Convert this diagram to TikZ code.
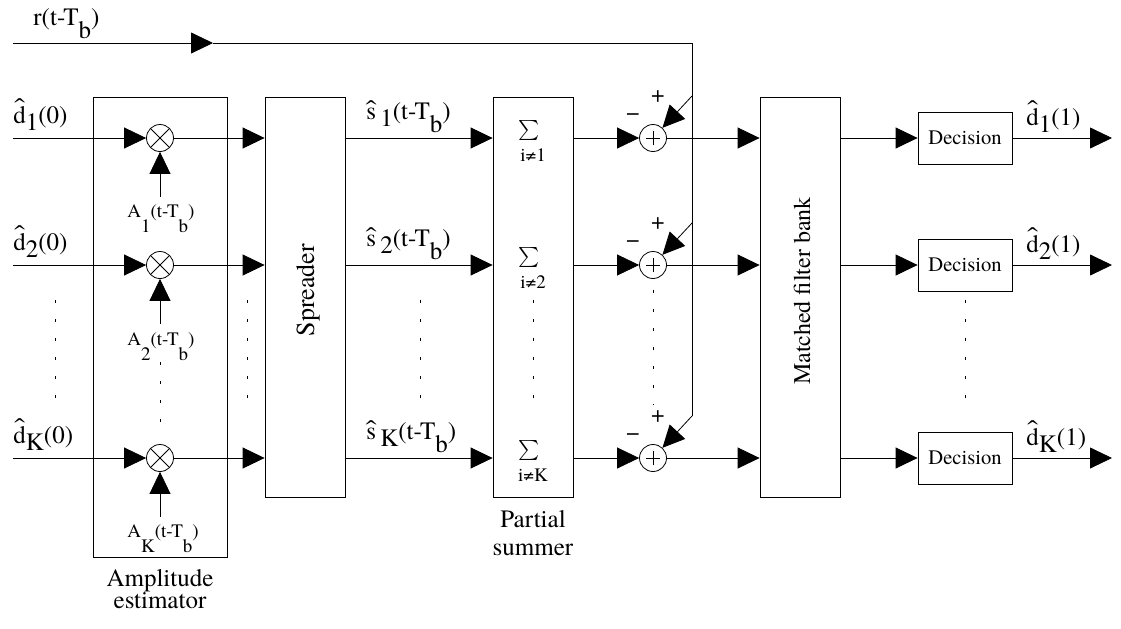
\documentclass[tikz,border=0pt]{standalone}
\usepackage{fontspec}
\setmainfont{texgyretermes}[Extension=.otf, UprightFont=*-regular, BoldFont=*-bold, ItalicFont=*-italic, BoldItalicFont=*-bolditalic]
\usepackage{graphicx}
\usepackage{tikz}
\usetikzlibrary{arrows.meta}

\newcommand{\lo}[1]{\raisebox{-0.3em}{#1}}
\newcommand{\dn}[1]{\raisebox{-0.55em}{#1}}
\newcommand{\dd}[1]{\raisebox{-0.8em}{#1}}
\newcommand{\hatc}[2]{\ooalign{#1\cr\hidewidth\raisebox{#2}{\scalebox{1.4}[1]{ˆ}}\hidewidth\cr}}

\begin{document}
\begin{tikzpicture}[x=0.5pt,y=-0.5pt,
	sig/.style={-{Triangle[length=11pt,width=10.5pt]}},
	blk/.style={draw, inner sep=0pt, minimum width=40pt, minimum height=200pt},
	mul/.style={draw, circle, inner sep=0pt, minimum size=13.5pt, path picture={
		\draw (path picture bounding box.north west) -- (path picture bounding box.south east)
			(path picture bounding box.north east) -- (path picture bounding box.south west);}},
	add/.style={draw, circle, inner sep=0pt, minimum size=13.5pt, path picture={
		\draw ([xshift=-3.5pt]path picture bounding box.center) -- ([xshift=3.5pt]path picture bounding box.center)
			([yshift=-3.5pt]path picture bounding box.center) -- ([yshift=3.5pt]path picture bounding box.center);}},
	decbox/.style={draw, inner sep=0pt, minimum width=47pt, minimum height=26pt, font=\fontsize{10.3}{12}\selectfont},
	lbl/.style={anchor=base west, inner sep=0pt, font=\fontsize{12.5}{15}\selectfont},
	alab/.style={anchor=base west, inner sep=0pt, font=\fontsize{9.5}{11}\selectfont},
	sgn/.style={inner sep=0pt, font=\fontsize{12}{14}\selectfont},
	sumsym/.style={inner sep=0pt, font=\fontsize{13}{15}\selectfont},
	sumidx/.style={inner sep=0pt, font=\fontsize{9.5}{11}\selectfont},
	blkcap/.style={anchor=base, inner sep=0pt, font=\fontsize{12.5}{15}\selectfont},
	dots/.style={dash pattern=on 1.5pt off 8pt}]

	\useasboundingbox (0,0) rectangle (1121,628);

	% Blocks
	\node[draw, inner sep=0pt, minimum width=67pt, minimum height=230pt] (amp) at (160,327) {};
	\node[blk] (spr) at (305,297) {};
	\node[blk] (psum) at (533,297) {};
	\node[blk] (mfb) at (800,297) {};

	\node[rotate=90, inner sep=0pt, font=\fontsize{13}{15}\selectfont] (sprt) at (308,290) {Spreader};
	\node[rotate=90, inner sep=0pt, font=\fontsize{12}{14}\selectfont] (mfbt) at (802,291) {Matched filter bank};

	\node[blkcap] (ampl1) at (160,586) {Amplitude};
	\node[blkcap] (ampl2) at (160,608) {estimator};
	\node[blkcap] (psl1) at (533,527) {Partial};
	\node[blkcap] (psl2) at (533,555) {summer};

	% Received signal
	\coordinate (rin) at (13,43);
	\coordinate (rmid) at (213,43);
	\coordinate (rtop) at (692,43);
	\node[lbl] (rl) at (33,25) {r(t-T\dn{b})};

	% Row 1
	\coordinate (in1) at (13,138);
	\coordinate (out1) at (1112,138);
	\coordinate (v1) at (160,197);
	\coordinate (b1) at (692,96);
	\node[mul] (m1) at (160,138) {};
	\node[add] (a1) at (653,138) {};
	\node[decbox] (dec1) at (965,138) {Decision};
	\node[sumsym] (S1) at (529,130) {$\sum$};
	\node[sumidx] (i1) at (533,155) {i≠1};
	\node[lbl] (dl1) at (13,123) {\hatc{d}{0.3em}\lo{1}(0)};
	\node[lbl] (sl1) at (366,119) {\hatc{s}{0.05em}\,\lo{1}(t-T\dn{b})};
	\node[lbl] (ol1) at (1026,125) {\hatc{d}{0.3em}\lo{1}(1)};
	\node[alab] (A1) at (127,217) {A\dd{1}(t-T\dd{b})};
	\node[sgn] (n1) at ([shift={(-20,-21)}]a1) {−};
	\node[sgn] (p1) at ([shift={(5,-41)}]a1) {+};

	\draw[sig] (in1) -- (m1);
	\draw[sig] (v1) -- (m1);
	\draw[sig] (m1) -- (m1 -| spr.west);
	\draw[sig] (spr.east |- m1) -- (psum.west |- m1);
	\draw[sig] (psum.east |- a1) -- (a1);
	\draw[sig] (b1) -- (a1);
	\draw[sig] (a1) -- (a1 -| mfb.west);
	\draw[sig] (mfb.east |- dec1) -- (dec1);
	\draw[sig] (dec1) -- (out1);

	% Row 2
	\coordinate (in2) at (13,265);
	\coordinate (out2) at (1112,265);
	\coordinate (v2) at (160,324);
	\coordinate (b2) at (692,223);
	\node[mul] (m2) at (160,265) {};
	\node[add] (a2) at (653,265) {};
	\node[decbox] (dec2) at (965,265) {Decision};
	\node[sumsym] (S2) at (529,257) {$\sum$};
	\node[sumidx] (i2) at (533,282) {i≠2};
	\node[lbl] (dl2) at (13,250) {\hatc{d}{0.3em}\lo{2}(0)};
	\node[lbl] (sl2) at (366,246) {\hatc{s}{0.05em}\,\lo{2}(t-T\dn{b})};
	\node[lbl] (ol2) at (1026,252) {\hatc{d}{0.3em}\lo{2}(1)};
	\node[alab] (A2) at (127,345) {A\dd{2}(t-T\dd{b})};
	\node[sgn] (n2) at ([shift={(-20,-21)}]a2) {−};
	\node[sgn] (p2) at ([shift={(5,-41)}]a2) {+};

	\draw[sig] (in2) -- (m2);
	\draw[sig] (v2) -- (m2);
	\draw[sig] (m2) -- (m2 -| spr.west);
	\draw[sig] (spr.east |- m2) -- (psum.west |- m2);
	\draw[sig] (psum.east |- a2) -- (a2);
	\draw[sig] (b2) -- (a2);
	\draw[sig] (a2) -- (a2 -| mfb.west);
	\draw[sig] (mfb.east |- dec2) -- (dec2);
	\draw[sig] (dec2) -- (out2);

	% Row K
	\coordinate (inK) at (13,458);
	\coordinate (outK) at (1112,458);
	\coordinate (vK) at (160,517);
	\coordinate (bK) at (692,416);
	\node[mul] (mK) at (160,458) {};
	\node[add] (aK) at (653,458) {};
	\node[decbox] (decK) at (965,458) {Decision};
	\node[sumsym] (SK) at (529,450) {$\sum$};
	\node[sumidx] (iK) at (533,475) {i≠K};
	\node[lbl] (dlK) at (13,443) {\hatc{d}{0.3em}\lo{K}(0)};
	\node[lbl] (slK) at (366,439) {\hatc{s}{0.05em}\,\lo{K}(t-T\dn{b})};
	\node[lbl] (olK) at (1026,445) {\hatc{d}{0.3em}\lo{K}(1)};
	\node[alab] (AK) at (127,537) {A\dd{K}(t-T\dd{b})};
	\node[sgn] (nK) at ([shift={(-20,-21)}]aK) {−};
	\node[sgn] (pK) at ([shift={(5,-41)}]aK) {+};

	\draw[sig] (inK) -- (mK);
	\draw[sig] (vK) -- (mK);
	\draw[sig] (mK) -- (mK -| spr.west);
	\draw[sig] (spr.east |- mK) -- (psum.west |- mK);
	\draw[sig] (psum.east |- aK) -- (aK);
	\draw[sig] (bK) -- (aK);
	\draw[sig] (aK) -- (aK -| mfb.west);
	\draw[sig] (mfb.east |- decK) -- (decK);
	\draw[sig] (decK) -- (outK);

	% r(t-Tb) feed
	\draw[sig] (rin) -- (rmid);
	\draw (rmid) -- (rtop) -- (bK);

	% Dots
	\draw[dots] (55,300) -- (55,405);
	\draw[dots] (160,362) -- (160,422);
	\draw[dots] (247,300) -- (247,405);
	\draw[dots] (420,300) -- (420,405);
	\draw[dots] (533,300) -- (533,405);
	\draw[dots] (653,290) -- (653,405);
	\draw[dots] (965,300) -- (965,405);

\end{tikzpicture}
\end{document}
